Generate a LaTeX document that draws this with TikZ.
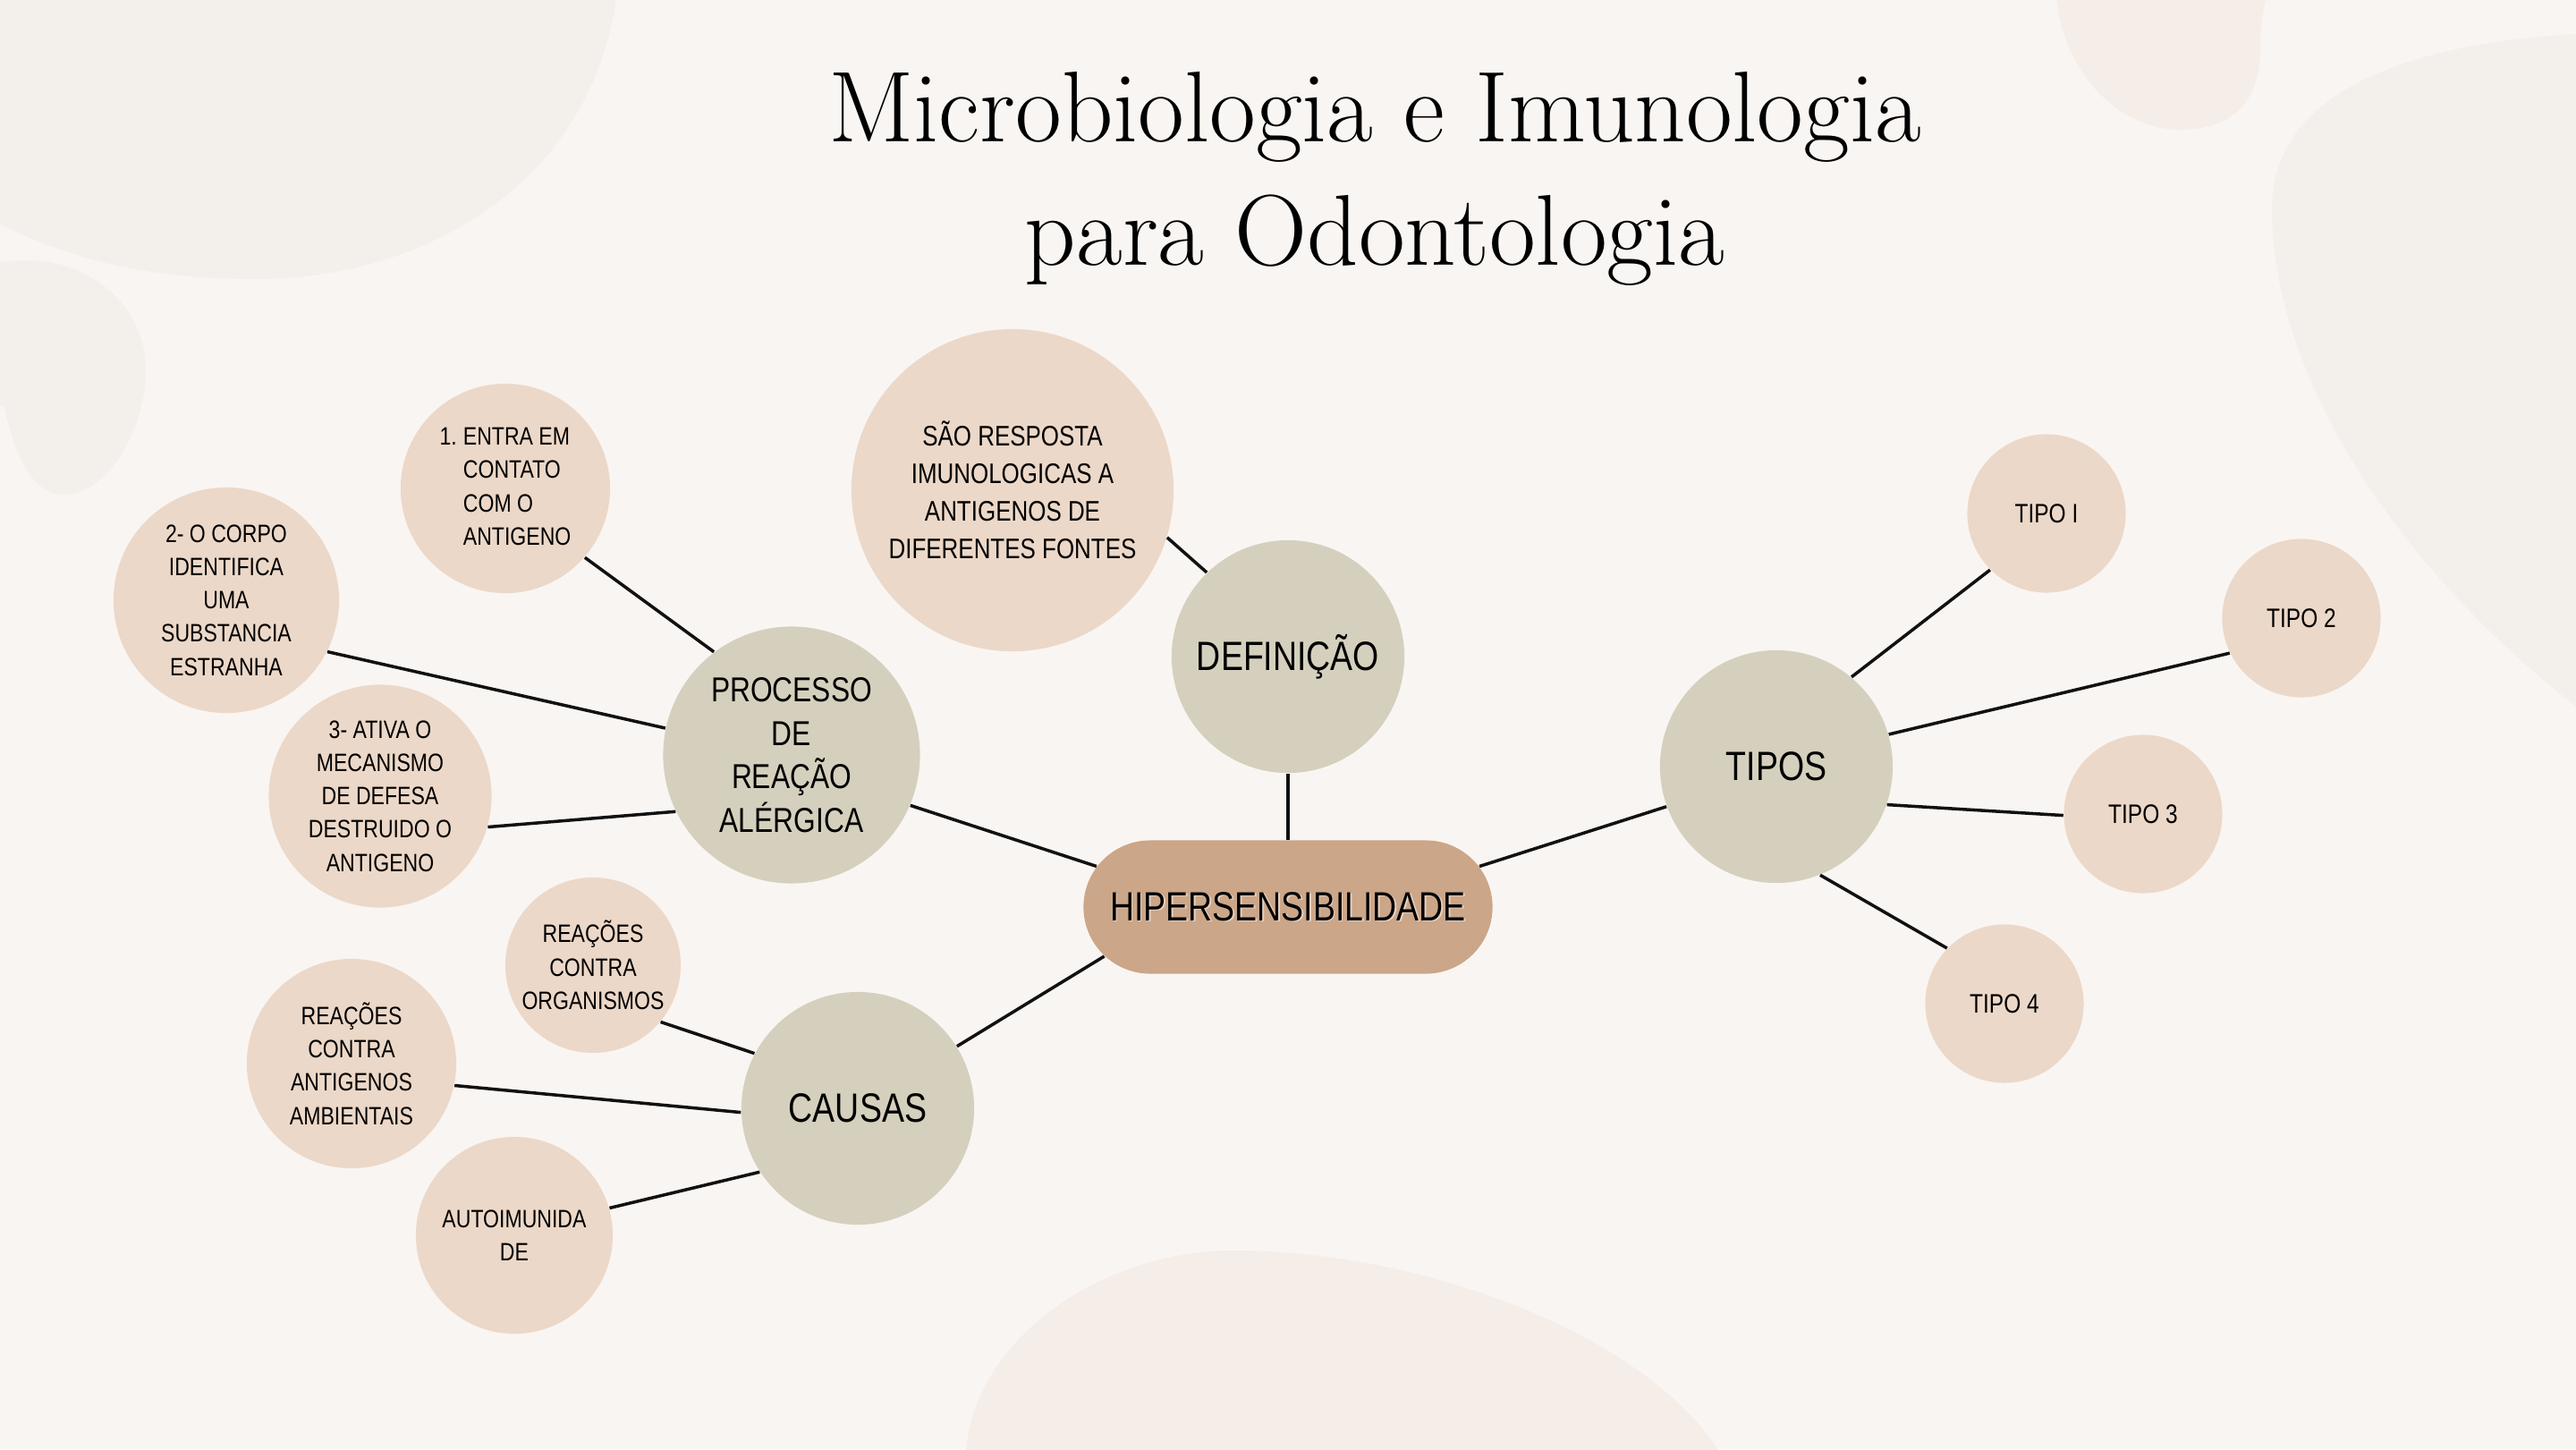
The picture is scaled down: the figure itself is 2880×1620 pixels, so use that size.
\documentclass[tikz,border=0pt]{standalone}
\usepackage{fontspec}
\usepackage{tikz}
\usetikzlibrary{shapes.misc,positioning}
\newfontfamily\labelfont[FakeStretch=0.82]{Liberation Sans}
\definecolor{paper}{HTML}{F9F5F2}
\definecolor{blobg}{HTML}{F3EFEA}
\definecolor{blobp}{HTML}{F5EDE8}
\definecolor{sage}{HTML}{D5D0BD}
\definecolor{blush}{HTML}{ECD8C8}
\definecolor{hubc}{HTML}{CBA688}
\definecolor{hubshade}{HTML}{E6D1C0}
\definecolor{ink}{HTML}{111111}
\tikzset{
  hub/.style={rounded rectangle,fill=hubc,minimum width=4.57cm,minimum height=1.49cm,inner sep=0pt,
    font=\labelfont\fontsize{13}{16}\selectfont},
  topic/.style={circle,fill=sage,minimum size=2.6cm,inner sep=0pt,align=center,
    font=\labelfont\fontsize{13}{16}\selectfont},
  leaf/.style={circle,fill=blush,inner sep=0pt,align=center,
    font=\labelfont\fontsize{8}{10.6}\selectfont},
  typebox/.style={leaf,minimum size=1.77cm,font=\labelfont\fontsize{8.5}{10.6}\selectfont},
  titletext/.style={anchor=base,inner sep=0pt,font=\fontsize{32}{39}\selectfont},
  link/.style={ink,line width=1pt},
}

\begin{document}
\begin{tikzpicture}[x=0.01cm,y=-0.01cm]
  \useasboundingbox (0,0) rectangle (2880,1620);
  \fill[paper] (0,0) rectangle (2880,1620);
  % background blobs
  \begin{scope}
    \clip (0,0) rectangle (2880,1620);
    \fill[blobg] (-20,-20) -- (-20,240) .. controls (90,300) and (190,312) .. (291,312)
      .. controls (480,310) and (670,200) .. (691,-20) -- cycle;
    \fill[blobg] (-20,300) .. controls (5,291) and (15,291) .. (28,291)
      .. controls (110,291) and (163,350) .. (163,413)
      .. controls (163,480) and (120,553) .. (71,553)
      .. controls (30,553) and (12,490) .. (5,455) -- (-20,440) -- cycle;
    \fill[blobp] (2298,-20) .. controls (2300,80) and (2370,145) .. (2436,145)
      .. controls (2500,145) and (2527,110) .. (2527,54)
      .. controls (2527,20) and (2533,5) .. (2536,-20) -- cycle;
    \fill[blobg] (2900,37) .. controls (2700,45) and (2540,100) .. (2540,233)
      .. controls (2540,420) and (2680,640) .. (2900,805) -- cycle;
    \fill[blobp] (1079,1640) .. controls (1079,1500) and (1230,1398) .. (1379,1398)
      .. controls (1600,1398) and (1860,1500) .. (1932,1640) -- cycle;
  \end{scope}

  \node[titletext] (title1) at (1537,158) {Microbiologia e Imunologia};
  \node[titletext] (title2) at (1537,296) {para Odontologia};

  \node[hub] (hyper) at (1440,1014)
    {\rlap{\hspace{0.015cm}\raisebox{-0.015cm}{\color{hubshade}HIPERSENSIBILIDADE}}HIPERSENSIBILIDADE};
  \node[topic] (defin) at (1440,734) {DEFINIÇÃO};
  \node[leaf,minimum size=3.6cm,font=\labelfont\fontsize{9}{11.9}\selectfont] (meaning) at (1132,548)
    {SÃO RESPOSTA\\IMUNOLOGICAS A\\ANTIGENOS DE\\DIFERENTES FONTES};

  \node[topic,minimum size=2.87cm,font=\labelfont\fontsize{11}{13.8}\selectfont] (process) at (885,844)
    {PROCESSO\\DE\\REAÇÃO\\ALÉRGICA};
  \node[leaf,minimum size=2.34cm] (step1) at (565,546)
    {\begin{tabular}{@{}l@{\hspace{2pt}}l@{}}1. & ENTRA EM\\ & CONTATO\\ & COM O\\ & ANTIGENO\end{tabular}};
  \node[leaf,minimum size=2.52cm] (step2) at (253,671)
    {2- O CORPO\\IDENTIFICA\\UMA\\SUBSTANCIA\\ESTRANHA};
  \node[leaf,minimum size=2.49cm] (step3) at (425,890)
    {3- ATIVA O\\MECANISMO\\DE DEFESA\\DESTRUIDO O\\ANTIGENO};

  \node[topic] (causes) at (959,1239) {CAUSAS};
  \node[leaf,minimum size=1.96cm] (organisms) at (663,1079) {REAÇÕES\\CONTRA\\ORGANISMOS};
  \node[leaf,minimum size=2.34cm] (environ) at (393,1189) {REAÇÕES\\CONTRA\\ANTIGENOS\\AMBIENTAIS};
  \node[leaf,minimum size=2.2cm] (autoimm) at (575,1381) {AUTOIMUNIDA\\DE};

  \node[topic] (kinds) at (1986,857) {TIPOS};
  \node[typebox] (type1) at (2288,574) {TIPO I};
  \node[typebox] (type2) at (2573,691) {TIPO 2};
  \node[typebox] (type3) at (2396,910) {TIPO 3};
  \node[typebox] (type4) at (2241,1122) {TIPO 4};

  \draw[link] (step1.-41) -- (process.127);
  \draw[link] (step2.-27) -- (process.168);
  \draw[link] (step3.-16) -- (process.206);
  \draw[link] (process.-23) -- (hyper.168);
  \draw[link] (defin.south) -- (hyper.north);
  \draw[link] (meaning.-17) -- (defin.134);
  \draw[link] (hyper.12) -- (kinds.200);
  \draw[link] (kinds.50) -- (type1.225);
  \draw[link] (kinds.16) -- (type2.206);
  \draw[link] (kinds.-19) -- (type3.181);
  \draw[link] (kinds.-68) -- (type4.136);
  \draw[link] (hyper.195) -- (causes.32);
  \draw[link] (organisms.-40) -- (causes.152);
  \draw[link] (environ.-12) -- (causes.182);
  \draw[link] (autoimm.16) -- (causes.213);
\end{tikzpicture}
\end{document}
